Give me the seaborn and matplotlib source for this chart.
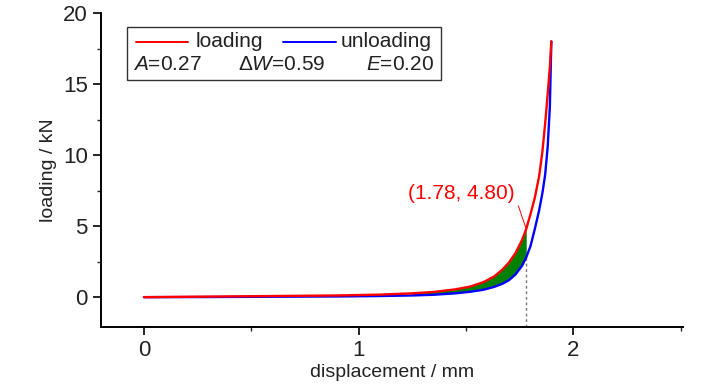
import matplotlib
matplotlib.use('Agg')
import matplotlib.pyplot as plt
from matplotlib.patches import Rectangle
from matplotlib.lines import Line2D
from matplotlib.ticker import MultipleLocator
import numpy as np
import pandas as pd
import seaborn as sns

# displacement (mm), shared sample points for both curves
disp = [0, 0.3, 0.6, 0.9, 1.1, 1.25, 1.35, 1.45, 1.52, 1.58, 1.63, 1.67, 1.70, 1.73,
        1.76, 1.78, 1.80, 1.82, 1.84, 1.855, 1.868, 1.88, 1.89, 1.897]
# loading force (kN)
load_y = [0, 0.04, 0.08, 0.12, 0.18, 0.27, 0.37, 0.55, 0.75, 1.05, 1.45, 1.95, 2.45, 3.1,
          4.0, 4.8, 5.85, 7.0, 8.5, 10.2, 12.2, 14.3, 16.2, 18.0]
# unloading force (kN)
unload_y = [0, 0.01, 0.03, 0.05, 0.08, 0.12, 0.17, 0.27, 0.38, 0.52, 0.72, 0.95, 1.2, 1.6,
            2.2, 2.8, 3.6, 4.8, 6.1, 7.3, 8.6, 10.6, 13.4, 18.0]

mark_x, mark_y, mark_y_unload = 1.78, 4.80, 2.8
stats = {'A': 0.27, 'dW': 0.59, 'E': 0.20}

sns.set_style('ticks')
fam = ['Liberation Sans', 'DejaVu Sans']
plt.rcParams['font.family'] = fam
plt.rcParams['mathtext.fontset'] = 'custom'
plt.rcParams['mathtext.rm'] = 'Liberation Sans'
plt.rcParams['mathtext.it'] = 'Liberation Sans:italic'

df_load = pd.DataFrame({'x': disp, 'y': load_y})
df_unload = pd.DataFrame({'x': disp, 'y': unload_y})

fig = plt.figure(figsize=(7.28, 3.9), dpi=100)
ax = fig.add_axes([101 / 728, 63 / 390, 582 / 728, 314 / 390])

# green area between the curves up to the marked point
xa = np.array(disp)
m = (xa >= 1.2) & (xa <= mark_x)
ax.fill_between(xa[m], np.array(unload_y)[m], np.array(load_y)[m], color='#008000', lw=0, zorder=1)

sns.lineplot(data=df_unload, x='x', y='y', ax=ax, color='#0000ff', lw=1.7, sort=False, zorder=3)
sns.lineplot(data=df_load, x='x', y='y', ax=ax, color='#ff0000', lw=1.7, sort=False, zorder=4)

ax.plot([mark_x, mark_x], [-2.1, mark_y_unload], ls=(0, (2, 2)), color='#777777', lw=1, zorder=2)
ax.annotate(f'({mark_x:.2f}, {mark_y:.2f})', xy=(mark_x, mark_y), xytext=(1.48, 7.3),
            color='red', fontsize=15, ha='center', va='center',
            arrowprops=dict(arrowstyle='-', color='red', lw=0.7, shrinkA=0, shrinkB=0,
                            relpos=(1.0, 0.35)))

ax.set_xlim(-0.2, 2.51)
ax.set_ylim(-2.1, 20)
ax.xaxis.set_major_locator(MultipleLocator(1))
ax.xaxis.set_minor_locator(MultipleLocator(0.5))
ax.yaxis.set_major_locator(MultipleLocator(5))
ax.yaxis.set_minor_locator(MultipleLocator(2.5))
ax.tick_params(which='major', length=6, width=1.2, labelsize=16, colors='black', labelcolor='#222222')
ax.tick_params(which='minor', length=3, width=1)
for s in ['top', 'right']:
    ax.spines[s].set_visible(False)
for s in ['left', 'bottom']:
    ax.spines[s].set_linewidth(1.4)
    ax.spines[s].set_color('black')
ax.set_xlabel('displacement / mm', fontsize=14, color='#222222', labelpad=2)
ax.set_ylabel('loading / kN', fontsize=14, color='#222222', labelpad=4)

# legend box with the two curves and the energy values
ax.add_patch(Rectangle((0.045, 0.787), 0.539, 0.168, transform=ax.transAxes,
                       fill=False, ec='#333333', lw=1, zorder=5))
ax.add_line(Line2D([0.060, 0.149], [0.908, 0.908], transform=ax.transAxes, color='#ff0000', lw=1.4))
ax.text(0.163, 0.908, 'loading', transform=ax.transAxes, fontsize=15, va='center', color='#222222')
ax.add_line(Line2D([0.313, 0.404], [0.908, 0.908], transform=ax.transAxes, color='#0000ff', lw=1.4))
ax.text(0.412, 0.908, 'unloading', transform=ax.transAxes, fontsize=15, va='center', color='#222222')
ax.text(0.055, 0.836, f'$\\mathit{{A}}$={stats["A"]:.2f}', transform=ax.transAxes,
        fontsize=15, va='center', color='#222222')
ax.text(0.310, 0.836, f'$\\Delta\\mathit{{W}}$={stats["dW"]:.2f}', transform=ax.transAxes,
        fontsize=15, va='center', ha='center', color='#222222')
ax.text(0.572, 0.836, f'$\\mathit{{E}}$={stats["E"]:.2f}', transform=ax.transAxes,
        fontsize=15, va='center', ha='right', color='#222222')

fig.savefig('out.png', dpi=100)
